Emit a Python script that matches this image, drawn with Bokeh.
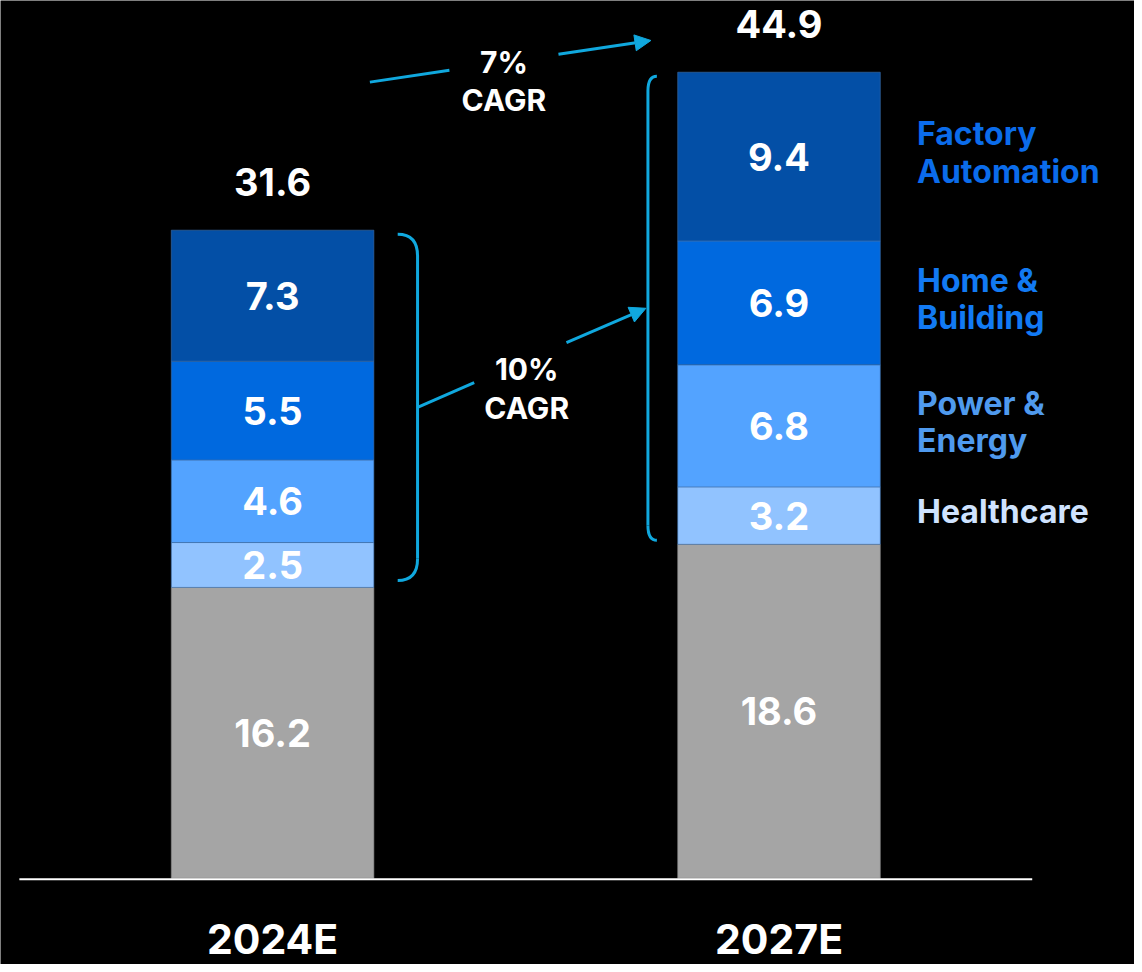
from bokeh.plotting import figure
from bokeh.models import Range1d, ColumnDataSource, Arrow, NormalHead
from bokeh.core.properties import value
from bokeh.embed import file_html
from bokeh.resources import INLINE

# ---------------- data ----------------
categories = ["2024E", "2027E"]
series = ["Other", "Healthcare", "Power & Energy", "Home & Building", "Factory Automation"]
legend_labels = ["", "Healthcare", "Power &\nEnergy", "Home &\nBuilding", "Factory\nAutomation"]
other = [16.2, 18.6]
healthcare = [2.5, 3.2]
power_energy = [4.6, 6.8]
home_building = [5.5, 6.9]
factory_automation = [7.3, 9.4]
totals = ["31.6", "44.9"]
cagr_total = "7%\nCAGR"
cagr_segments = "10%\nCAGR"

# ---------------- style ----------------
fills = ["#A5A5A5", "#91C3FF", "#53A3FF", "#0069DF", "#034FA6"]
legend_colors = [None, "#CFE3FF", "#4F9AEE", "#127AF3", "#0B6CEB"]
CYAN = "#10A8DE"
FONT = "Inter"

W, H = 1134, 964
REF_W, REF_H = 1142, 972
PXX = 510.0   # reference px per x unit
PXY = 18.1    # reference px per y unit
X0_REF = 274   # reference px of index 0
BASE_REF = 885  # reference px (from top) of y=0

x_start = -X0_REF / PXX
x_end = (REF_W - X0_REF) / PXX
y_end = BASE_REF / PXY
y_start = -(REF_H - BASE_REF) / PXY

def dx(px):
    return px / PXX

def dy(px):
    return px / PXY

p = figure(width=W, height=H, output_backend="svg", toolbar_location=None,
           x_range=Range1d(x_start, x_end), y_range=Range1d(y_start, y_end),
           min_border=0, min_border_left=0, min_border_right=0,
           min_border_top=0, min_border_bottom=0)
p.background_fill_color = "black"
p.border_fill_color = "black"
p.outline_line_color = None
p.grid.visible = False
p.axis.visible = False

xs = list(range(len(categories)))
BW = 0.4
values = [other, healthcare, power_energy, home_building, factory_automation]

bottoms = [0.0] * len(categories)
seg_mid = []
for s, vals in enumerate(values):
    tops = [b + v for b, v in zip(bottoms, vals)]
    src = ColumnDataSource(dict(x=xs, bottom=bottoms, top=tops))
    p.vbar(x="x", bottom="bottom", top="top", width=BW, source=src,
           fill_color=fills[s], line_color="#3F6FA8" if s > 0 else "#8A8A8A",
           line_width=1, line_alpha=0.6)
    mids = [(b + t) / 2 for b, t in zip(bottoms, tops)]
    seg_mid.append(mids)
    p.text(x=xs, y=mids, text=[f"{v:.1f}" for v in vals],
           text_font=value(FONT), text_font_style="bold", text_font_size="38px",
           text_color="white", text_align="center", text_baseline="middle")
    bottoms = tops

stack_tops = bottoms
gray_tops = other

# totals
p.text(x=xs, y=[t + dy(49) for t in stack_tops], text=totals,
       text_font=value(FONT), text_font_style="bold", text_font_size="38px",
       text_color="white", text_align="center", text_baseline="middle")

# category labels
p.text(x=xs, y=[y_start + dy(1)] * len(xs), text=categories,
       text_font=value(FONT), text_font_style="bold", text_font_size="41px",
       text_color="white", text_align="center", text_baseline="bottom")

# baseline
p.segment(x0=[-0.5], y0=[-dy(1)], x1=[1.5], y1=[-dy(1)], line_color="white", line_width=2)

# legend labels next to 2027E
lx = xs[-1] + BW / 2 + dx(37)
for s in range(1, len(series)):
    p.text(x=[lx], y=[seg_mid[s][-1] + dy(4)], text=[legend_labels[s]],
           text_font=value(FONT), text_font_style="bold", text_font_size="32px",
           text_color=legend_colors[s], text_align="left", text_baseline="middle",
           text_line_height=0.96)

# brace right of 2024E
R0 = xs[0] + BW / 2
xe0, xv0 = R0 + dx(24), R0 + dx(44)
yt0, yb0 = stack_tops[0] - dy(4), gray_tops[0] + dy(7)
r0 = dy(22)
p.quadratic(x0=[xe0, xv0], y0=[yt0, yb0 + r0], x1=[xv0, xe0], y1=[yt0 - r0, yb0],
            cx=[xv0, xv0], cy=[yt0, yb0], line_color=CYAN, line_width=3)
p.segment(x0=[xv0], y0=[yt0 - r0], x1=[xv0], y1=[yb0 + r0], line_color=CYAN, line_width=3)

# brace left of 2027E
L1 = xs[1] - BW / 2
xe1, xv1 = L1 - dx(21), L1 - dx(30)
yt1, yb1 = stack_tops[1] - dy(4), gray_tops[1] + dy(4)
r1 = dy(15)
p.quadratic(x0=[xe1, xv1], y0=[yt1, yb1 + r1], x1=[xv1, xe1], y1=[yt1 - r1, yb1],
            cx=[xv1, xv1], cy=[yt1, yb1], line_color=CYAN, line_width=3)
p.segment(x0=[xv1], y0=[yt1 - r1], x1=[xv1], y1=[yb1 + r1], line_color=CYAN, line_width=3)

def lerp(a, b, t):
    return a + (b - a) * t

def broken_arrow(xa, ya, xb, yb, t1, t2, tt, text, text_drop):
    p.segment(x0=[xa], y0=[ya], x1=[lerp(xa, xb, t1)], y1=[lerp(ya, yb, t1)],
              line_color=CYAN, line_width=3)
    p.add_layout(Arrow(x_start=lerp(xa, xb, t2), y_start=lerp(ya, yb, t2), x_end=xb, y_end=yb,
                       line_color=CYAN, line_width=3,
                       end=NormalHead(size=16, fill_color=CYAN, line_color=CYAN)))
    p.text(x=[lerp(xa, xb, tt)], y=[lerp(ya, yb, tt) - text_drop], text=[text],
           text_font=value(FONT), text_font_style="bold", text_font_size="30px",
           text_color="white", text_align="center", text_baseline="middle",
           text_line_height=1.07)

# 10% CAGR arrow: brace middle to brace middle
broken_arrow(xv0, (yt0 + yb0) / 2, xv1 - dx(2), (yt1 + yb1) / 2,
             0.248, 0.652, 0.478, cagr_segments, dy(29))

# 7% CAGR arrow: above the bars
top_y_a = stack_tops[1] - dy(10)
top_y_b = stack_tops[1] + dy(32)
broken_arrow(R0 - dx(4), top_y_a, L1 - dx(27), top_y_b,
             0.283, 0.671, 0.477, cagr_total, dy(19))

open("out.html", "w").write(file_html(p, INLINE))
